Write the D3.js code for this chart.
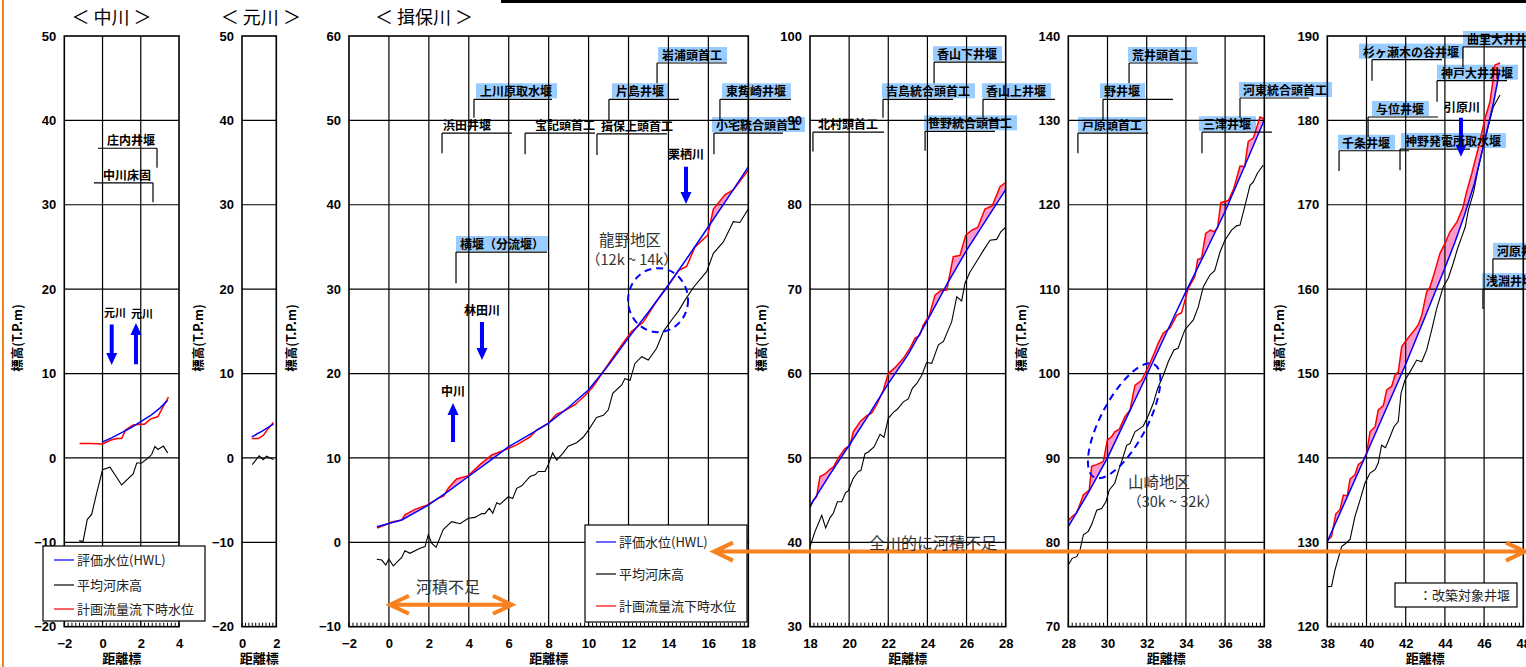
<!DOCTYPE html>
<html>
<head>
<meta charset="utf-8">
<script src="https://cdn.jsdelivr.net/npm/d3@7"></script>
<style>
  body { margin: 0; background: #fff; }
  svg { display: block; }
</style>
</head>
<body>
<svg id="chart"></svg>
<script>
// ---- data (distance km, elevation T.P.m) ----
const nakaHwl = [[0,1.9],[0.5,2.4],[1,3.0],[1.5,3.6],[2,4.3],[2.5,5.0],[3,5.9],[3.4,6.8]];
const nakaFlow = [[-1.2,1.7],[-0.6,1.7],[0,1.65],[0.4,2.1],[0.75,2.3],[1.0,2.3],[1.2,3.3],[1.6,3.9],[2.0,4.0],[2.2,4.0],[2.5,4.6],[2.9,4.9],[3.2,6.2],[3.45,7.2]];
const nakaBed = [[-1.22,-9.8],[-1.02,-9.9],[-0.8,-7.3],[-0.57,-6.7],[-0.31,-4.2],[0,-1.4],[0.39,-1.1],[1.0,-3.2],[1.6,-1.9],[1.79,-0.6],[2.05,-0.6],[2.39,0.0],[2.57,0.4],[2.74,1.35],[2.9,1.0],[3.18,1.4],[3.41,0.6]];

const motoHwl = [[0.57,2.5],[1.2,3.2],[1.83,4.0]];
const motoFlow = [[0.57,2.3],[0.95,2.3],[1.25,2.7],[1.54,3.5],[1.83,4.2]];
const motoBed = [[0.6,-0.8],[1.0,0.25],[1.24,-0.2],[1.43,0.2],[1.83,-0.2]];

const iboHwl = [[-0.6,1.85],[0.64,2.65],[1.97,4.4],[3.0,6.1],[3.98,7.8],[5,9.55],[5.98,11.3],[7,12.7],[7.98,14.1],[9,16.0],[9.99,18.05],[11,21.0],[11.99,24.2],[13,27.3],[14,30.5],[15,33.9],[16,37.4],[17,40.9],[18,44.5]];
const iboFlow = [[-0.6,1.7],[-0.2,2.05],[0.14,2.4],[0.64,2.65],[0.8,3.25],[1.3,3.9],[1.9,4.4],[2.47,5.2],[2.75,5.5],[2.97,6.4],[3.39,7.5],[3.98,7.9],[4.56,9.2],[5.15,10.35],[5.81,10.95],[6.4,11.55],[7.07,12.5],[7.4,13.3],[7.98,14.1],[8.4,15.2],[8.73,15.5],[9.32,16.3],[9.82,17.4],[10.24,18.5],[10.9,20.8],[11.24,22.0],[11.66,23.4],[12.16,25.0],[12.74,26.1],[13.33,28.3],[14.0,30.5],[14.5,32.2],[14.91,32.7],[15.33,35.0],[15.97,36.4],[16.25,39.5],[16.84,41.2],[17.25,41.75],[18.0,44.1]];
const iboBed = [[-0.61,-2.0],[-0.36,-2.1],[-0.16,-2.7],[0.0,-2.0],[0.22,-2.8],[0.64,-1.8],[0.8,-1.0],[1.05,-1.3],[1.56,-0.7],[1.81,-0.5],[1.97,0.9],[2.14,-0.1],[2.36,-0.6],[2.72,1.5],[3.14,2.45],[3.56,2.2],[3.98,2.85],[4.31,2.95],[4.65,3.4],[4.81,3.4],[5.03,4.05],[5.2,3.45],[5.4,4.7],[5.56,4.5],[5.98,5.4],[6.2,5.2],[6.4,6.4],[6.65,6.7],[7.07,7.8],[7.32,8.0],[7.48,8.4],[7.82,8.4],[7.98,9.2],[8.2,10.6],[8.4,9.75],[8.73,10.6],[8.98,11.4],[9.4,11.8],[9.73,12.45],[9.99,13.3],[10.4,14.8],[10.74,15.05],[10.99,15.7],[11.21,17.65],[11.66,18.65],[11.82,19.4],[12.08,19.2],[12.32,21.2],[12.66,22.0],[12.99,21.6],[13.41,23.0],[13.75,25.0],[14.16,26.35],[14.5,27.4],[14.83,28.7],[15.25,30.2],[15.92,32.1],[16.25,34.25],[16.75,35.6],[17.25,38.0],[17.58,37.9],[18.0,39.5]];

const sec2Hwl = [[18,44.3],[19,48.0],[20,51.5],[21,55.1],[22,58.8],[23,62.2],[24,66.3],[25,70.6],[26,74.6],[27,78.2],[28,81.8]];
const sec2Flow = [[18,44.1],[18.17,45.0],[18.34,45.4],[18.51,47.8],[18.77,48.1],[19.02,48.65],[19.19,48.9],[19.45,50.0],[19.79,51.1],[20.05,51.5],[20.21,53.1],[20.56,54.3],[20.9,55.0],[21.15,55.3],[21.41,56.3],[21.75,58.05],[22.0,60.0],[22.34,60.7],[22.77,61.8],[23.11,63.0],[23.37,64.2],[23.6,64.5],[23.79,65.75],[24.1,66.9],[24.39,69.3],[24.65,69.8],[24.99,69.9],[25.32,73.85],[25.66,74.0],[25.96,76.4],[26.27,77.0],[26.57,77.3],[26.94,79.5],[27.32,79.9],[27.71,82.15],[27.97,82.6]];
const sec2Bed = [[18,39.5],[18.26,41.3],[18.6,43.2],[18.8,41.7],[19.02,42.9],[19.19,43.45],[19.4,44.8],[19.62,44.8],[19.82,45.9],[19.96,46.1],[20.21,47.6],[20.47,48.4],[20.6,48.5],[20.81,50.5],[20.98,50.7],[21.27,51.3],[21.58,52.8],[21.78,52.45],[22.0,54.7],[22.26,55.4],[22.47,55.8],[22.77,56.65],[23.02,57.0],[23.23,58.25],[23.45,58.8],[23.71,59.8],[23.96,61.3],[24.22,61.2],[24.56,63.4],[24.82,63.8],[25.07,65.2],[25.24,66.15],[25.5,69.1],[25.75,68.6],[25.92,70.7],[26.17,72.0],[26.52,73.3],[26.86,74.6],[27.2,75.8],[27.54,75.9],[27.75,76.8],[27.97,77.3]];

const sec3Hwl = [[28,81.85],[29,85.8],[30,90.0],[31,94.9],[32,99.8],[33,104.8],[34,109.7],[35,114.4],[36,119.2],[37,124.6],[38,130.05]];
const sec3Flow = [[28,82.6],[28.17,83.0],[28.43,83.5],[28.77,85.6],[29.07,86.2],[29.19,89.0],[29.45,89.2],[29.79,89.6],[29.99,92.1],[30.2,92.5],[30.37,93.1],[30.6,93.4],[30.89,94.9],[31.15,95.7],[31.4,98.6],[31.74,99.2],[32.08,100.8],[32.31,102.0],[32.59,103.6],[32.85,104.8],[33.19,105.4],[33.53,106.9],[33.78,107.2],[34.12,110.1],[34.46,111.5],[34.6,113.5],[34.8,113.7],[35.01,116.6],[35.25,117.0],[35.45,116.8],[35.62,117.3],[35.78,120.25],[36.17,120.5],[36.45,121.95],[36.76,124.6],[37.0,124.55],[37.18,127.5],[37.44,127.9],[37.78,130.4],[38,130.2]];
const sec3Bed = [[28,77.3],[28.2,78.1],[28.43,78.3],[28.6,79.1],[28.77,80.9],[29.02,81.3],[29.19,82.1],[29.45,83.8],[29.7,84.0],[29.92,84.8],[30.09,86.2],[30.37,87.0],[30.55,88.4],[30.8,90.15],[30.98,91.5],[31.15,91.7],[31.4,93.1],[31.66,93.5],[31.83,93.8],[32.08,95.0],[32.34,96.5],[32.56,98.25],[32.85,99.8],[33.1,101.4],[33.39,102.8],[33.6,103.0],[33.95,105.2],[34.38,106.35],[34.63,107.9],[34.89,110.3],[35.23,111.7],[35.47,112.2],[35.74,114.4],[35.99,115.8],[36.33,117.0],[36.58,117.5],[36.76,117.6],[37.07,120.4],[37.27,122.3],[37.44,122.7],[37.66,123.8],[37.95,124.7]];

const sec4Hwl = [[38,130.1],[39,135.3],[40,140.5],[41,145.8],[42,151.1],[43,156.8],[44,162.5],[44.5,165.5],[45,168.8],[45.5,172.5],[46,177.3],[46.5,182.3],[46.8,186.0]];
const sec4Flow = [[38,130.2],[38.22,130.7],[38.43,133.35],[38.65,133.9],[38.82,135.6],[39.02,135.5],[39.16,137.5],[39.41,138.0],[39.58,139.2],[39.84,139.7],[40.01,140.55],[40.18,143.1],[40.44,143.7],[40.6,145.7],[40.86,146.2],[41.03,148.05],[41.29,148.5],[41.45,149.8],[41.62,150.2],[41.8,153.2],[42.05,154.0],[42.39,155.0],[42.64,155.75],[42.82,156.9],[43.07,159.7],[43.24,160.25],[43.46,161.9],[43.75,164.25],[44.0,165.4],[44.26,166.8],[44.6,167.9],[44.91,169.6],[45.11,171.55],[45.37,173.7],[45.7,176.7],[46.05,180.25],[46.3,182.2],[46.56,186.55],[46.81,186.8]];
const sec4Bed = [[38,124.75],[38.22,124.8],[38.39,126.7],[38.73,129.5],[38.9,129.8],[39.16,130.35],[39.41,133.05],[39.67,135.0],[39.92,137.0],[40.18,138.2],[40.44,138.6],[40.6,139.4],[40.77,141.5],[40.97,141.2],[41.2,142.5],[41.4,143.7],[41.62,144.3],[41.76,147.65],[41.96,149.2],[42.22,150.2],[42.56,151.6],[42.82,151.4],[43.07,152.8],[43.33,155.2],[43.58,157.7],[43.92,160.3],[44.17,161.3],[44.43,163.1],[44.65,164.85],[44.86,166.2],[45.03,167.3],[45.2,169.4],[45.45,171.35],[45.7,174.3],[45.96,176.9],[46.21,179.25],[46.47,181.6],[46.81,183.0]];

const xDomains = [[-2,4],[0,2],[-2,18],[18,28],[28,38],[38,48]];
const yDomains = [[-20,50],[-20,50],[-10,60],[30,100],[70,140],[120,190]];
const riverTitles = [[0,'＜ 中川 ＞',0.47],[1,'＜ 元川 ＞',1.1],[2,'＜ 揖保川 ＞',1.76]];
const legendLabels = ['評価水位(HWL)', '平均河床高', '計画流量流下時水位'];

// weirs: name, panel, line from x0 to x1 (km), vertical at vx down to yb, line elevation y, text start tx, highlighted
const weirs = [
  ['庄内井堰',0,-0.24,2.85,2.85,36.7,34.4,0.23,false],
  ['中川床固',0,-0.45,2.64,2.64,32.6,30.3,0.02,false],
  ['上川原取水堰',2,4.26,8.17,4.26,52.5,50.3,4.56,true],
  ['浜田井堰',2,2.66,6.16,2.66,48.5,46.1,2.71,false],
  ['宝記頭首工',2,6.82,10.32,6.82,48.5,46.0,7.32,false],
  ['揖保上頭首工',2,10.42,13.93,10.42,48.4,45.9,10.62,false],
  ['片島井堰',2,11.02,14.53,11.02,52.5,49.9,11.37,true],
  ['岩浦頭首工',2,13.43,16.93,13.43,56.8,54.4,13.68,true],
  ['東觜崎井堰',2,16.58,20.14,16.58,52.5,50.0,16.88,true],
  ['小宅統合頭首工',2,16.28,19.74,16.28,48.5,46.0,16.38,true],
  ['横堰（分流堰）',2,3.36,7.92,3.36,34.4,30.7,3.56,true],
  ['香山下井堰',3,24.34,27.96,24.34,96.9,94.4,24.49,true],
  ['吉島統合頭首工',3,21.73,25.31,21.73,92.5,90.3,21.88,true],
  ['香山上井堰',3,26.84,30.52,26.84,92.5,90.3,26.99,true],
  ['北村頭首工',3,18.15,21.78,18.15,88.6,86.3,18.41,false],
  ['笹野統合頭首工',3,23.88,27.45,23.88,88.7,86.4,24.03,true],
  ['荒井頭首工',4,31.1,34.62,31.1,136.8,134.4,31.25,true],
  ['野井堰',4,29.77,33.34,29.77,132.5,130.0,29.82,true],
  ['戸原頭首工',4,28.49,32.07,28.49,128.5,126.1,28.7,true],
  ['河東統合頭首工',4,36.76,40.28,36.76,132.65,130.3,36.91,true],
  ['三津井堰',4,34.82,38.39,34.82,128.6,126.1,34.87,true],
  ['曲里大井井堰',5,44.92,48.85,44.92,188.7,186.3,45.13,true],
  ['杉ヶ瀬木の谷井堰',5,40.28,43.85,40.28,187.2,184.7,39.82,true],
  ['神戸大井井堰',5,43.6,47.17,43.6,184.7,182.2,43.8,true],
  ['与位井堰',5,40.08,43.65,40.08,180.4,178.0,40.48,true],
  ['千条井堰',5,38.6,42.17,38.6,176.4,174.0,38.75,true],
  ['神野発電所取水堰',5,41.71,45.28,41.71,176.6,174.1,41.96,true],
  ['河原井堰',5,46.45,49.87,46.45,163.6,161.3,46.66,true],
  ['浅淵井堰',5,45.94,49.87,45.94,160.0,157.65,46.1,true]
];

// tributaries: name, panel, label x/y, arrow x, tail, tip
const tributaries = [
  ['元川',0,0.65,17.2,0.48,15.8,11.0],
  ['元川',0,2.06,17.0,1.75,11.1,16.0],
  ['栗栖川',2,14.88,45.9,14.88,44.5,40.1],
  ['林田川',2,4.66,27.4,4.66,26.1,21.6],
  ['中川',2,3.21,17.8,3.21,11.9,16.5],
  ['引原川',5,44.87,181.5,44.82,180.3,175.7]
];

// ---- layout ----
const W = 1526, H = 667;
const plotTop = 36, plotBottom = 626.7;
const layout = [
  {x0: 64.3, x1: 179, labelDx: -47},
  {x0: 242, x1: 276.3, labelDx: -43},
  {x0: 349, x1: 748.3, labelDx: -57},
  {x0: 810, x1: 1005.7, labelDx: -48},
  {x0: 1068.3, x1: 1264.3, labelDx: -47},
  {x0: 1327.3, x1: 1523.3, labelDx: -48}
];
const series = [
  [nakaHwl, nakaBed, nakaFlow],
  [motoHwl, motoBed, motoFlow],
  [iboHwl, iboBed, iboFlow],
  [sec2Hwl, sec2Bed, sec2Flow],
  [sec3Hwl, sec3Bed, sec3Flow],
  [sec4Hwl, sec4Bed, sec4Flow]
];

const fontNum = "'Liberation Sans', Arial, sans-serif";
const fontJp = "'Noto Sans CJK JP', sans-serif";
const orange = '#f7801f';
const pink = '#ff99cc';

const svg = d3.select('#chart').attr('width', W).attr('height', H)
    .attr('font-family', fontJp);

const bgLayer = svg.append('g');
const plotLayer = svg.append('g');
const overLayer = svg.append('g');
const textLayer = svg.append('g');

const scales = layout.map((L, i) => ({
    x: d3.scaleLinear().domain(xDomains[i]).range([L.x0, L.x1]),
    y: d3.scaleLinear().domain(yDomains[i]).range([plotBottom, plotTop])
}));

function interp(s, x) {
    for (let i = 1; i < s.length; i++) {
        if (x <= s[i][0]) {
            const [xa, ya] = s[i - 1], [xb, yb] = s[i];
            return ya + (yb - ya) * (x - xa) / (xb - xa);
        }
    }
    return s[s.length - 1][1];
}

// points where flow level sits above HWL (with crossing points added)
function excess(flow, hwl) {
    const lo = Math.max(flow[0][0], hwl[0][0]);
    const hi = Math.min(flow[flow.length - 1][0], hwl[hwl.length - 1][0]);
    const xs = Array.from(new Set(flow.concat(hwl).map(d => d[0])))
        .filter(v => v >= lo && v <= hi).sort((a, b) => a - b);
    const pts = xs.map(v => ({x: v, f: interp(flow, v), h: interp(hwl, v)}));
    const out = [];
    pts.forEach((p, i) => {
        if (i > 0) {
            const q = pts[i - 1];
            const dq = q.f - q.h, dp = p.f - p.h;
            if (dq * dp < 0) {
                const t = dq / (dq - dp);
                const h = q.h + t * (p.h - q.h);
                out.push({x: q.x + t * (p.x - q.x), f: h, h: h});
            }
        }
        out.push(p);
    });
    return out;
}

// ---- panels ----
layout.forEach((L, i) => {
    const {x, y} = scales[i];
    const [hwl, bed, flow] = series[i];
    const g = plotLayer.append('g');

    // pink where planned flow level exceeds HWL
    g.append('path')
        .datum(excess(flow, hwl))
        .attr('fill', pink)
        .attr('d', d3.area().x(d => x(d.x)).y0(d => y(d.h)).y1(d => y(Math.max(d.f, d.h))));

    const yTicks = d3.range(yDomains[i][0], yDomains[i][1] + 1, 10);
    const xTicks = d3.range(xDomains[i][0], xDomains[i][1] + 0.01, 2);

    g.selectAll('.hg').data(yTicks.slice(1, -1)).join('line')
        .attr('x1', L.x0).attr('x2', L.x1)
        .attr('y1', d => y(d)).attr('y2', d => y(d))
        .attr('stroke', '#000').attr('stroke-width', 1.2);
    g.selectAll('.vg').data(xTicks.slice(1, -1)).join('line')
        .attr('x1', d => x(d)).attr('x2', d => x(d))
        .attr('y1', plotTop).attr('y2', plotBottom)
        .attr('stroke', '#000').attr('stroke-width', 1.2);

    // minor ticks along the bottom
    const minor = d3.range(Math.round(xDomains[i][0] * 5), Math.round(xDomains[i][1] * 5) + 1).map(d => d / 5);
    g.selectAll('.mt').data(minor).join('line')
        .attr('x1', d => x(d)).attr('x2', d => x(d))
        .attr('y1', plotBottom).attr('y2', plotBottom - 4)
        .attr('stroke', '#000').attr('stroke-width', 1);

    const line = d3.line().x(d => x(d[0])).y(d => y(d[1]));
    g.append('path').datum(bed).attr('d', line)
        .attr('fill', 'none').attr('stroke', '#000').attr('stroke-width', 1.1);
    g.append('path').datum(flow).attr('d', line)
        .attr('fill', 'none').attr('stroke', '#ff0000').attr('stroke-width', 1.5);
    g.append('path').datum(hwl).attr('d', line)
        .attr('fill', 'none').attr('stroke', '#0000ff').attr('stroke-width', 1.5);

    g.append('rect')
        .attr('x', L.x0).attr('y', plotTop)
        .attr('width', L.x1 - L.x0).attr('height', plotBottom - plotTop)
        .attr('fill', 'none').attr('stroke', '#000').attr('stroke-width', 1.6);

    // axes
    const ya = g.append('g').attr('transform', `translate(${L.x0},0)`)
        .call(d3.axisLeft(y).tickValues(yTicks).tickFormat(d3.format('d')).tickSize(0).tickPadding(8));
    const xa = g.append('g').attr('transform', `translate(0,${plotBottom})`)
        .call(d3.axisBottom(x).tickValues(xTicks).tickFormat(d3.format('d')).tickSize(0).tickPadding(12));
    [ya, xa].forEach(a => {
        a.select('.domain').remove();
        a.attr('font-family', fontNum).attr('font-size', 13).attr('font-weight', 'bold');
        a.selectAll('text').attr('fill', '#000');
    });

    g.append('text')
        .attr('x', (L.x0 + L.x1) / 2).attr('y', 663)
        .attr('text-anchor', 'middle')
        .attr('font-size', 13).attr('font-weight', 'bold')
        .text('距離標');

    g.append('text')
        .attr('transform', `translate(${L.x0 + L.labelDx},338) rotate(-90)`)
        .attr('text-anchor', 'middle').attr('dy', '0.35em')
        .attr('font-size', 12.5).attr('font-weight', 'bold')
        .text('標高(T.P.m)');
});

// river titles
riverTitles.forEach(([p, t, k]) => {
    textLayer.append('text')
        .attr('x', scales[p].x(k)).attr('y', 24)
        .attr('text-anchor', 'middle')
        .attr('font-size', 18)
        .text(t);
});

// weirs
weirs.forEach(([name, p, x0, x1, vx, yl, yb, tx, hl]) => {
    const {x, y} = scales[p];
    const ly = y(yl);
    const t = textLayer.append('text')
        .attr('x', x(tx)).attr('y', ly - 3)
        .attr('font-size', 12).attr('font-weight', 'bold')
        .attr('fill', '#000')
        .text(name);
    if (hl) {
        const w = t.node().getComputedTextLength();
        bgLayer.append('rect')
            .attr('x', x(tx) - 4).attr('y', ly - 16)
            .attr('width', w + 9).attr('height', 15)
            .attr('fill', '#99ccff');
    }
    overLayer.append('path')
        .attr('d', `M${x(x0)},${ly}H${x(x1)}M${x(vx)},${ly}V${y(yb)}`)
        .attr('fill', 'none').attr('stroke', '#000').attr('stroke-width', 1.2);
});

// tributary arrows
function blueArrow(px, yTail, yTip) {
    const dir = yTip > yTail ? 1 : -1;
    const yBase = yTip - dir * 12;
    overLayer.append('path')
        .attr('d', `M${px - 2},${yTail}L${px + 2},${yTail}L${px + 2},${yBase}L${px + 5.5},${yBase}L${px},${yTip}L${px - 5.5},${yBase}L${px - 2},${yBase}Z`)
        .attr('fill', '#0000ff');
}
tributaries.forEach(([name, p, tx, ty, ax, a0, a1]) => {
    const {x, y} = scales[p];
    textLayer.append('text')
        .attr('x', x(tx)).attr('y', y(ty)).attr('dy', '0.35em')
        .attr('text-anchor', 'middle')
        .attr('font-size', p === 0 ? 11 : 12).attr('font-weight', 'bold')
        .text(name);
    blueArrow(x(ax), y(a0), y(a1));
});

// districts
function district(p, k, e, line1, line2, dx2) {
    const {x, y} = scales[p];
    textLayer.append('text').attr('x', x(k)).attr('y', y(e)).attr('dy', '0.35em')
        .attr('text-anchor', 'middle').attr('font-size', 15.5).attr('fill', '#333').text(line1);
    textLayer.append('text').attr('x', x(k) + dx2).attr('y', y(e) + 20).attr('dy', '0.35em')
        .attr('text-anchor', 'middle').attr('font-size', 14.5).attr('fill', '#333').text(line2);
}
district(2, 12.07, 35.8, '龍野地区', '（12k ~ 14k）', 2);
district(4, 32.63, 87.1, '山崎地区', '（30k ~ 32k）', 14);

overLayer.append('ellipse')
    .attr('cx', scales[2].x(13.48)).attr('cy', scales[2].y(28.7))
    .attr('rx', 30).attr('ry', 32)
    .attr('fill', 'none').attr('stroke', '#0000ff').attr('stroke-width', 2)
    .attr('stroke-dasharray', '7,5');
overLayer.append('ellipse')
    .attr('transform', `translate(${scales[4].x(30.85)},${scales[4].y(94.4)}) rotate(-62)`)
    .attr('rx', 64).attr('ry', 23)
    .attr('fill', 'none').attr('stroke', '#0000ff').attr('stroke-width', 2)
    .attr('stroke-dasharray', '7,5');

// legends
const legendColors = ['#0000ff', '#000', '#ff0000'];
function legend(bx, by, bw, bh, rowY, lx) {
    const g = textLayer.append('g');
    g.append('rect').attr('x', bx).attr('y', by).attr('width', bw).attr('height', bh)
        .attr('fill', '#fff').attr('stroke', '#000').attr('stroke-width', 1.2);
    legendLabels.forEach((lab, i) => {
        g.append('line').attr('x1', lx).attr('x2', lx + 20)
            .attr('y1', by + rowY[i]).attr('y2', by + rowY[i])
            .attr('stroke', legendColors[i]).attr('stroke-width', 1.2);
        g.append('text').attr('x', lx + 23).attr('y', by + rowY[i]).attr('dy', '0.35em')
            .attr('font-size', 13).attr('fill', '#222').text(lab);
    });
}
legend(43, 546, 162, 75, [14, 39, 63], 54);
legend(585, 525, 162, 97, [17, 49, 81], 596);

const note = textLayer.append('g');
note.append('rect').attr('x', 1395).attr('y', 583).attr('width', 122).attr('height', 24)
    .attr('fill', '#fff').attr('stroke', '#000').attr('stroke-width', 1.2);
note.append('text').attr('x', 1419).attr('y', 595).attr('dy', '0.35em')
    .attr('font-size', 13).attr('fill', '#222').text('：改築対象井堰');

// orange double arrows
function orangeArrow(xa, xb, yy) {
    textLayer.append('path')
        .attr('d', `M${xa},${yy}H${xb}M${xa + 20},${yy - 9}L${xa + 1},${yy}L${xa + 20},${yy + 9}M${xb - 20},${yy - 9}L${xb - 1},${yy}L${xb - 20},${yy + 9}`)
        .attr('fill', 'none').attr('stroke', orange).attr('stroke-width', 4);
}
orangeArrow(scales[2].x(0), scales[2].x(6.21), scales[2].y(-7.4));
textLayer.append('text').attr('x', scales[2].x(2.96)).attr('y', scales[2].y(-5.4)).attr('dy', '0.35em')
    .attr('text-anchor', 'middle').attr('font-size', 16).attr('fill', '#333').text('河積不足');

orangeArrow(scales[2].x(16.23), W, scales[2].y(-1.1));
textLayer.append('text').attr('x', scales[3].x(24.28)).attr('y', scales[3].y(39.9)).attr('dy', '0.35em')
    .attr('text-anchor', 'middle').attr('font-size', 16).attr('fill', '#333').text('全川的に河積不足');

// frame lines
svg.append('line').attr('x1', 3).attr('x2', 3).attr('y1', 0).attr('y2', H)
    .attr('stroke', orange).attr('stroke-width', 2);
svg.append('line').attr('x1', 501).attr('x2', W).attr('y1', 1.5).attr('y2', 1.5)
    .attr('stroke', '#000').attr('stroke-width', 3);
</script>
</body>
</html>
